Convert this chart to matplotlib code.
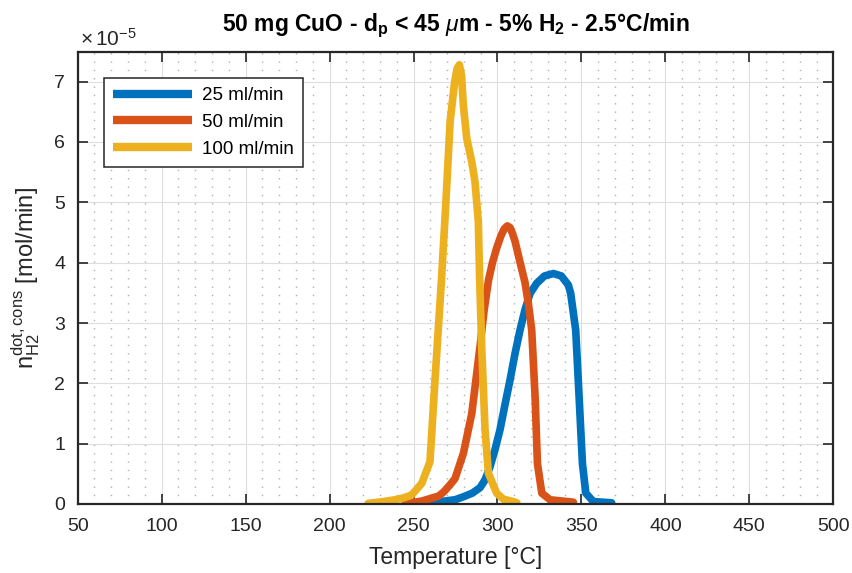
import numpy as np
import matplotlib
matplotlib.use("Agg")
import matplotlib.pyplot as plt
from matplotlib.ticker import MultipleLocator

plt.rcParams['font.family'] = ['Liberation Sans', 'DejaVu Sans']
plt.rcParams['mathtext.fontset'] = 'custom'
plt.rcParams['mathtext.rm'] = 'Liberation Sans'
plt.rcParams['mathtext.it'] = 'Liberation Sans:italic'
plt.rcParams['mathtext.bf'] = 'Liberation Sans:bold'

# data (y in 1e-5 mol/min)
T_25 = [246.9, 265.8, 274.7, 279.7, 285, 289.6, 292.6, 295.6, 298.5, 301.5, 304.5,
        307.5, 310.5, 313.4, 316.4, 319.4, 323.4, 328, 333.3, 338, 342.2, 343.6,
        346.6, 348.6, 350.6, 352.6, 357.1, 368]
n_25 = [0.0, 0.04, 0.07, 0.12, 0.18, 0.27, 0.40, 0.62, 0.90, 1.23, 1.65,
        2.06, 2.50, 2.88, 3.22, 3.49, 3.66, 3.78, 3.82, 3.78, 3.63, 3.49,
        2.88, 1.78, 0.67, 0.18, 0.04, 0.02]

T_50 = [244.9, 255, 264.8, 268, 271.8, 274.7, 279.7, 284.7, 289.6, 292, 294.6,
        297, 299.5, 302, 304, 305.9, 307.5, 309, 310.5, 313.5, 316.4, 318.5,
        320.4, 322.4, 323.8, 326.4, 331.3, 345.2]
n_50 = [0.0, 0.05, 0.13, 0.20, 0.32, 0.42, 0.84, 1.50, 2.61, 3.20, 3.70,
        4.00, 4.24, 4.44, 4.56, 4.61, 4.58, 4.48, 4.35, 4.00, 3.67, 3.30,
        2.88, 1.78, 0.67, 0.18, 0.07, 0.03]

T_100 = [223, 232, 239, 244, 248.9, 254.9, 259.8, 262.8, 266.5, 269.2, 271.8,
         274.5, 276, 277.3, 278.6, 279.7, 281.7, 284.7, 286.6, 288.6, 289.4, 290.6,
         292.6, 294.6, 299.5, 303.5, 309.4, 311.5]
n_100 = [0.01, 0.04, 0.07, 0.10, 0.15, 0.34, 0.70, 2.06, 3.65, 4.96, 6.34,
         7.00, 7.22, 7.28, 7.10, 6.60, 6.06, 5.67, 5.34, 4.68, 3.70, 2.61,
         1.23, 0.51, 0.18, 0.08, 0.04, 0.02]

labels = ['25 ml/min', '50 ml/min', '100 ml/min']
colors = ['#0072BD', '#D95319', '#EDB120']

fig = plt.figure(figsize=(8.53, 5.73), dpi=100)
ax = fig.add_axes([77.7/853, 1 - 504/573, (833.3-77.7)/853, (504-51.5)/573])

for T, n, lab, c in zip([T_25, T_50, T_100], [n_25, n_50, n_100], labels, colors):
    ax.plot(T, np.array(n) * 1e-5, color=c, lw=5.5, label=lab,
            solid_capstyle='round', solid_joinstyle='round')

ax.set_xlim(50, 500)
ax.set_ylim(0, 7.5e-5)
ax.xaxis.set_major_locator(MultipleLocator(50))
ax.xaxis.set_minor_locator(MultipleLocator(10))
ax.set_yticks(np.arange(0, 8) * 1e-5)
ax.set_yticklabels([str(i) for i in range(8)])
ax.grid(True, which='major', color='#dedede', lw=0.8)
ax.grid(True, which='minor', axis='x', color='#b0b0b0', lw=1.0, ls=(0, (1, 5)))
ax.set_axisbelow(True)
ax.tick_params(which='major', direction='in', top=True, right=True, labelsize=14,
               colors='#262626', length=7, width=1.2)
ax.tick_params(axis='x', pad=10)
ax.tick_params(axis='y', pad=9)
ax.tick_params(which='minor', length=0)
for s in ax.spines.values():
    s.set_color('#262626')
    s.set_linewidth(1.6)

fig.text(80/853, 1 - 39/573, r'$\times\,10^{-5}$', fontsize=15, color='#262626', va='center')
ax.set_title(r'50 mg CuO - d$_{\mathbf{p}}$ < 45 $\mathit{\mu}$m - 5% H$_{\mathbf{2}}$ - 2.5°C/min',
             fontsize=16.5, fontweight='bold', pad=15)
ax.set_xlabel('Temperature [°C]', fontsize=16.5, color='#262626', labelpad=8)
ax.set_ylabel(r'n$^{\mathrm{dot,cons}}_{\mathrm{H2}}$ [mol/min]', fontsize=17, color='#262626',
              labelpad=8)

leg = ax.legend(loc='upper left', bbox_to_anchor=((104-77.7)/755.6, (504-78)/452.5),
                borderaxespad=0, fontsize=13.5, handlelength=4.2, handletextpad=0.5,
                fancybox=False, edgecolor='#262626', framealpha=1, borderpad=0.5,
                labelspacing=0.5)
leg.get_frame().set_linewidth(1.1)
for h in leg.get_lines():
    h.set_linewidth(6)
    h.set_solid_capstyle('butt')

fig.savefig('out.png', dpi=100)
